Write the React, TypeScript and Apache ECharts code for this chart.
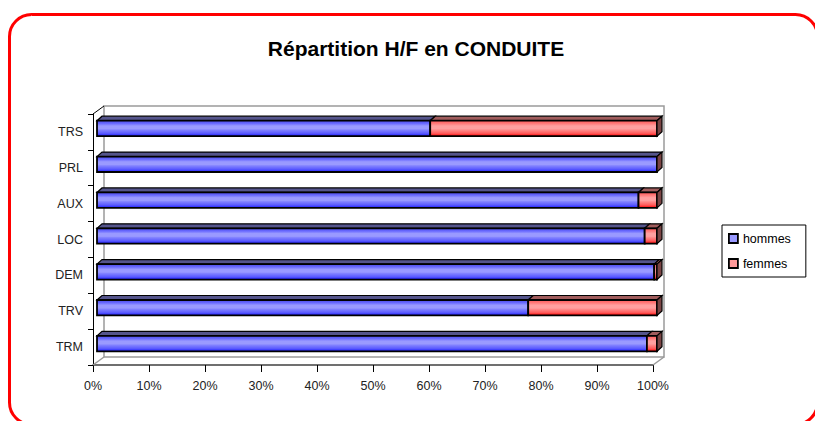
import React, { useEffect, useRef } from "react";
import * as echarts from "echarts";

const titleText = "Répartition H/F en CONDUITE";
const categories = ["TRM", "TRV", "DEM", "LOC", "AUX", "PRL", "TRS"];
const seriesNames = ["hommes", "femmes"];
const hommes = [98.2, 77.0, 99.5, 97.8, 96.7, 100, 59.5];
const femmes = [1.8, 23.0, 0.5, 2.2, 3.3, 0, 40.5];
const xTickValues = [0, 10, 20, 30, 40, 50, 60, 70, 80, 90, 100];

const FONT = "'Liberation Sans', Arial, sans-serif";

const blueFront = new echarts.graphic.LinearGradient(0, 0, 0, 1, [
  { offset: 0, color: "#4a4ae6" },
  { offset: 0.18, color: "#6a6aff" },
  { offset: 0.34, color: "#9a9aff" },
  { offset: 0.52, color: "#9a9aff" },
  { offset: 0.6, color: "#8282ff" },
  { offset: 0.82, color: "#5a5aff" },
  { offset: 1, color: "#1a1aff" },
]);
const redFront = new echarts.graphic.LinearGradient(0, 0, 0, 1, [
  { offset: 0, color: "#ff5a5a" },
  { offset: 0.18, color: "#ff7a7a" },
  { offset: 0.34, color: "#ffa0a0" },
  { offset: 0.52, color: "#ffa0a0" },
  { offset: 0.6, color: "#ff8a8a" },
  { offset: 0.82, color: "#ff5a5a" },
  { offset: 1, color: "#ff0000" },
]);
const frontFills = [blueFront, redFront];
const topFills = ["#55558c", "#a05c5c"];
const sideFill = "#7a4444";
const swatchColors = ["#9999ff", "#ff9999"];

// depth geometry (pixels)
const SHIFT_X = 4;
const SHIFT_Y = -3.5;
const DEPTH_X = 5;
const DEPTH_Y = -4.5;
const WALL_X = 11;
const WALL_Y = -8;

function stackData(idx: number) {
  return categories.map((_, i) => {
    const start = idx === 0 ? 0 : hommes[i];
    const end = idx === 0 ? hommes[i] : hommes[i] + femmes[i];
    return [i, start, end];
  });
}

function makeBarRender(seriesIdx: number) {
  return (params: any, api: any) => {
    const cat = api.value(0);
    const v0 = api.value(1);
    const v1 = api.value(2);
    const p0 = api.coord([v0, cat]);
    const p1 = api.coord([v1, cat]);
    const band = api.size([0, 1])[1];
    const h = band * 0.43;
    const x = p0[0] + SHIFT_X;
    const y = p0[1] + SHIFT_Y - h / 2;
    const w = p1[0] - p0[0];
    const children: any[] = [
      {
        type: "polygon",
        shape: {
          points: [
            [x, y],
            [x + w, y],
            [x + w + DEPTH_X, y + DEPTH_Y],
            [x + DEPTH_X, y + DEPTH_Y],
          ],
        },
        style: { fill: topFills[seriesIdx], stroke: "#000", lineWidth: 1.2 },
      },
      {
        type: "rect",
        shape: { x, y, width: w, height: h },
        style: { fill: frontFills[seriesIdx], stroke: "#000", lineWidth: 1.8 },
      },
    ];
    if (seriesIdx === 1) {
      children.push({
        type: "polygon",
        shape: {
          points: [
            [x + w, y],
            [x + w + DEPTH_X, y + DEPTH_Y],
            [x + w + DEPTH_X, y + h + DEPTH_Y],
            [x + w, y + h],
          ],
        },
        style: { fill: sideFill, stroke: "#000", lineWidth: 1.2 },
      });
    }
    return { type: "group", children };
  };
}

function wallsRender(params: any) {
  const cs = params.coordSys;
  const L = cs.x;
  const T = cs.y;
  const R = cs.x + cs.width;
  const B = cs.y + cs.height;
  const gray = "#9a9a9a";
  return {
    type: "group",
    children: [
      {
        type: "rect",
        shape: { x: L + WALL_X, y: T + WALL_Y, width: R - L, height: B - T },
        style: { fill: "#fff", stroke: gray, lineWidth: 1.5 },
      },
      {
        type: "line",
        shape: { x1: L, y1: T, x2: L + WALL_X, y2: T + WALL_Y },
        style: { stroke: "#000", lineWidth: 1 },
      },
      {
        type: "line",
        shape: { x1: L, y1: B, x2: L + WALL_X, y2: B + WALL_Y },
        style: { stroke: gray, lineWidth: 1.5 },
      },
      {
        type: "line",
        shape: { x1: R, y1: B, x2: R + WALL_X, y2: B + WALL_Y },
        style: { stroke: gray, lineWidth: 1.5 },
      },
    ],
  };
}

export default function App() {
  const ref = useRef<HTMLDivElement>(null);
  useEffect(() => {
    if (!ref.current) return;
    const chart = echarts.init(ref.current, undefined, { renderer: "svg" });
    chart.setOption({
      animation: false,
      backgroundColor: "#fff",
      textStyle: { fontFamily: FONT },
      graphic: [
        {
          type: "rect",
          z: 100,
          silent: true,
          shape: { x: 9.5, y: 14.5, width: 808, height: 410, r: 22 },
          style: { fill: "none", stroke: "#ff0000", lineWidth: 3 },
        },
        {
          type: "text",
          x: 416,
          y: 48,
          style: {
            text: titleText,
            font: `bold 21px ${FONT}`,
            fill: "#000",
            textAlign: "center",
            textVerticalAlign: "middle",
          },
        },
      ],
      legend: {
        orient: "vertical",
        left: 722,
        top: 225,
        padding: [7, 15, 7, 6],
        itemGap: 12,
        itemWidth: 9,
        itemHeight: 9,
        borderColor: "#000",
        borderWidth: 1,
        backgroundColor: "#fff",
        textStyle: { fontSize: 12.5, color: "#000", fontFamily: FONT },
        data: seriesNames.map((n, i) => ({
          name: n,
          icon: "rect",
          itemStyle: { color: swatchColors[i], borderColor: "#000", borderWidth: 1.8 },
        })),
      },
      grid: { left: 93, right: 162, top: 114, bottom: 56, containLabel: false },
      xAxis: {
        type: "value",
        min: 0,
        max: 100,
        interval: 10,
        axisLine: { show: true, lineStyle: { color: "#404040", width: 1.5 } },
        axisTick: { show: true, length: 7, lineStyle: { color: "#000" } },
        splitLine: { show: false },
        axisLabel: {
          margin: 14,
          fontSize: 12.5,
          color: "#222",
          fontFamily: FONT,
          customValues: xTickValues,
          formatter: (v: number) => `${v}%`,
        },
      },
      yAxis: {
        type: "category",
        data: categories,
        axisLine: { show: true, lineStyle: { color: "#000", width: 1 } },
        axisTick: { show: true, length: 5, lineStyle: { color: "#000" } },
        splitLine: { show: false },
        axisLabel: { margin: 10, fontSize: 12.5, color: "#222", fontFamily: FONT },
      },
      series: [
        {
          type: "custom",
          name: "walls",
          z: 1,
          silent: true,
          clip: false,
          renderItem: wallsRender,
          data: [[0, 0, 0]],
          encode: { x: 1, y: 0 },
        },
        ...seriesNames.map((n, i) => ({
          type: "custom",
          name: n,
          z: 2 + i,
          clip: false,
          renderItem: makeBarRender(i),
          itemStyle: { color: swatchColors[i] },
          encode: { x: [1, 2], y: 0 },
          data: stackData(i),
        })),
      ],
    });
    return () => chart.dispose();
  }, []);
  return (
    <div
      ref={ref}
      style={{ position: "fixed", left: 0, top: 0, width: 815, height: 421 }}
    />
  );
}
